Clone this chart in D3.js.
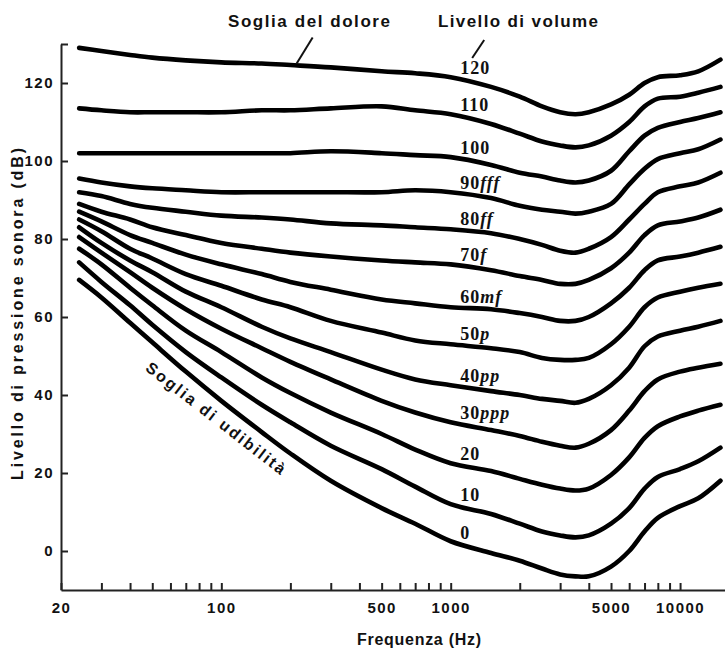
<!DOCTYPE html>
<html>
<head>
<meta charset="utf-8">
<script src="https://cdn.jsdelivr.net/npm/d3@7"></script>
<style>
  body { margin: 0; background: #fff; }
  svg { display: block; font-family: "Liberation Sans", Arial, sans-serif; }
  .axis path, .axis line { stroke: #222; stroke-width: 2; }
  .axis text { font-family: "Liberation Sans", Arial, sans-serif; font-size: 15px; font-weight: bold; fill: #111; letter-spacing: 1.5px; }
  .curve { fill: none; stroke: #000; stroke-width: 4.6; stroke-linecap: round; stroke-linejoin: round; }
  .title { font-weight: bold; fill: #111; }
  .lvl { font-family: "Liberation Serif", "Times New Roman", serif; font-weight: bold; font-size: 18px; letter-spacing: 1px; fill: #111; }
  .pointer { stroke: #111; stroke-width: 2; fill: none; }
</style>
</head>
<body>
<script>
// frequencies (Hz) where every curve is sampled
const freqs = [24, 30, 40, 50, 70, 100, 150, 200, 300, 500, 700, 1000, 1500, 2000, 2500, 3000, 3500, 4000, 5000, 6000, 7000, 8000, 10000, 12000, 15000];

// sound pressure level (dB) of each equal-loudness curve
const phon120 = [129, 128.2, 127.2, 126.5, 125.8, 125.3, 125, 124.6, 124, 123, 122.5, 121.5, 119, 116.5, 114, 112.5, 112, 112.5, 114.5, 117, 120, 121.5, 122, 123, 126];
const phon110 = [113.5, 113, 112.5, 112.5, 112.5, 112.5, 113, 113, 113.5, 114, 113, 112, 109.5, 107, 105, 104, 103.5, 104, 106.5, 110, 114, 116, 116.5, 117.5, 119];
const phon100 = [102, 102, 102, 102, 102, 102, 102, 102, 102.5, 102, 101.5, 101, 99, 97, 96, 95, 94.5, 95, 97.5, 102.5, 106.5, 108.5, 110, 111, 112.5];
const phon90 = [95.5, 94.5, 93.5, 93, 92.5, 92, 92, 92, 92, 92, 92.5, 92, 90.5, 88.5, 87.5, 87, 86.5, 87, 89, 94, 98, 100.5, 102, 103, 105.5];
const phon80 = [92, 91, 89, 88, 87, 86, 85.5, 85, 84, 83.5, 83, 82.5, 81.5, 80, 78.5, 77, 76.5, 77.5, 80.5, 85, 89, 92, 93.5, 94.5, 97];
const phon70 = [89, 87, 85, 83, 81, 79, 77.5, 76.5, 75.5, 74.5, 74, 73.5, 72, 70.5, 69.5, 68.5, 68.5, 69.5, 72.5, 76.5, 81, 83.5, 84.5, 85.5, 87.5];
const phon60 = [87, 84.5, 81, 79, 76, 73.5, 71, 69, 67, 64.5, 63.5, 62.5, 62, 61, 60, 59, 59, 60, 63.5, 67.5, 72, 74.5, 75.5, 76.5, 78];
const phon50 = [85, 82, 77.5, 75, 71, 68, 64.5, 62.5, 59, 56, 54, 53, 52, 51, 49.5, 49, 49, 49.5, 53, 57.5, 62.5, 65, 66.5, 67.5, 68.5];
const phon40 = [83, 79, 74.5, 71.5, 66.5, 62.5, 57.5, 54.5, 51, 46.5, 44, 42.5, 41, 40, 39, 38.5, 38, 39, 42.5, 47, 52.5, 55, 56.5, 57.5, 59];
const phon30 = [80.5, 76.5, 71.5, 67.5, 62, 57, 52, 48.5, 44, 38.5, 35.5, 33, 31, 29.5, 28, 27, 26.5, 27.5, 31, 36, 41, 44, 46, 47, 48];
const phon20 = [77.5, 73.5, 67.5, 63, 56.5, 51, 44.5, 40.5, 35.5, 30, 26, 22.5, 20.5, 18.5, 17, 16, 15.5, 16, 19.5, 24, 29, 32, 34.5, 36, 37.5];
const phon10 = [74, 69, 63, 58, 51, 44.5, 37.5, 33, 27, 21, 16.5, 12, 9.5, 7, 5, 4, 3.5, 4, 7, 11, 16, 19, 21, 23, 26.5];
const phon0 = [69.5, 65, 58.5, 53.5, 46, 38.5, 30.5, 25, 18, 11, 7, 2.5, -0.5, -2.5, -4.5, -6, -6.5, -6.5, -4, 0, 5, 8.5, 11.5, 13.5, 18];

// curve labels (loudness level + musical dynamic)
const levelNames = ["120", "110", "100", "90", "80", "70", "60", "50", "40", "30", "20", "10", "0"];
const dynamics = ["", "", "", "fff", "ff", "f", "mf", "p", "pp", "ppp", "", "", ""];

// axis ticks
const xTickValues = [20, 30, 40, 50, 60, 70, 80, 90, 100, 200, 300, 400, 500, 600, 700, 800, 900,
                     1000, 2000, 3000, 4000, 5000, 6000, 7000, 8000, 9000, 10000];
const xTickLabels = [20, 100, 500, 1000, 5000, 10000];
const yTickValues = [0, 20, 40, 60, 80, 100, 120, 130];

class Chart {
  constructor() {
    this.curves = [phon120, phon110, phon100, phon90, phon80, phon70, phon60,
                   phon50, phon40, phon30, phon20, phon10, phon0];
    this.draw();
  }

  draw() {
    this.width = 725;
    this.height = 657;
    this.svg = d3.select("body").append("svg")
      .attr("width", this.width)
      .attr("height", this.height);

    this.createScales();
    this.addAxes();
    this.addCurves();
    this.addLabels();
    this.addTitles();
  }

  createScales() {
    this.xScale = d3.scaleLog().domain([20, 15700]).range([61, 725]);
    this.yScale = d3.scaleLinear().domain([-10, 130]).range([590, 44]);
  }

  // value of a curve at frequency f (linear in log f)
  valueAt(vals, f) {
    let i = d3.bisectRight(freqs, f) - 1;
    i = Math.max(0, Math.min(freqs.length - 2, i));
    const t = (Math.log(f) - Math.log(freqs[i])) / (Math.log(freqs[i + 1]) - Math.log(freqs[i]));
    return vals[i] + t * (vals[i + 1] - vals[i]);
  }

  addAxes() {
    const xAxis = d3.axisBottom(this.xScale)
      .tickValues(xTickValues)
      .tickFormat(d => xTickLabels.includes(d) ? d : "")
      .tickSizeInner(-7)
      .tickSizeOuter(0)
      .tickPadding(12);

    const yAxis = d3.axisLeft(this.yScale)
      .tickValues(yTickValues)
      .tickFormat(d => d === 130 ? "" : d)
      .tickSizeInner(-7)
      .tickSizeOuter(0)
      .tickPadding(7);

    this.svg.append("g")
      .attr("class", "x axis")
      .attr("transform", `translate(0, ${this.yScale(-10)})`)
      .call(xAxis);

    this.svg.append("g")
      .attr("class", "y axis")
      .attr("transform", `translate(${this.xScale(20)}, 0)`)
      .call(yAxis);
  }

  addCurves() {
    const line = d3.line()
      .x((d, i) => this.xScale(freqs[i]))
      .y(d => this.yScale(d))
      .curve(d3.curveCatmullRom.alpha(0.5));

    this.svg.append("g")
      .selectAll("path")
      .data(this.curves)
      .enter()
      .append("path")
      .attr("class", "curve")
      .attr("d", line);
  }

  addLabels() {
    const fLab = 1100;
    const g = this.svg.append("g");
    this.curves.forEach((vals, i) => {
      const t = g.append("text")
        .attr("class", "lvl")
        .attr("x", this.xScale(fLab))
        .attr("y", this.yScale(this.valueAt(vals, fLab)) - 5);
      t.append("tspan").text(levelNames[i]);
      if (dynamics[i]) t.append("tspan").attr("font-style", "italic").text(dynamics[i]);
    });
  }

  addTitles() {
    const s = this.svg;

    // pain threshold label + pointer to the top curve
    const fp = 213;
    const px = this.xScale(fp), py = this.yScale(this.valueAt(phon120, fp)) - 2;
    s.append("path").attr("class", "pointer")
      .attr("d", `M${px},${py}L${px + 16},${py - 26}`);
    s.append("text").attr("class", "title")
      .attr("x", 228).attr("y", 27)
      .attr("font-size", 17)
      .attr("textLength", 162).attr("lengthAdjust", "spacing")
      .text("Soglia del dolore");

    // loudness level label + pointer to "120"
    const lx = this.xScale(1100);
    s.append("path").attr("class", "pointer")
      .attr("d", `M${lx + 24},40L${lx + 12},58`);
    s.append("text").attr("class", "title")
      .attr("x", 438).attr("y", 27)
      .attr("font-size", 17)
      .attr("textLength", 160).attr("lengthAdjust", "spacing")
      .text("Livello di volume");

    // hearing threshold, written along the 0 curve
    const fh = 105;
    const hx = this.xScale(fh), hy = this.yScale(this.valueAt(phon0, fh));
    s.append("text").attr("class", "title")
      .attr("transform", `translate(${hx},${hy}) rotate(37.8)`)
      .attr("x", 0).attr("y", 17).attr("dy", "0.35em")
      .attr("text-anchor", "middle")
      .attr("font-size", 16)
      .attr("textLength", 172).attr("lengthAdjust", "spacing")
      .text("Soglia di udibilità");

    // axis titles
    s.append("text").attr("class", "title")
      .attr("x", 419).attr("y", 645)
      .attr("text-anchor", "middle")
      .attr("font-size", 16)
      .attr("textLength", 124).attr("lengthAdjust", "spacing")
      .text("Frequenza (Hz)");

    s.append("text").attr("class", "title")
      .attr("transform", "translate(23, 314) rotate(-90)")
      .attr("text-anchor", "middle")
      .attr("font-size", 16)
      .attr("textLength", 332).attr("lengthAdjust", "spacing")
      .text("Livello di pressione sonora (dB)");
  }
}

new Chart();
</script>
</body>
</html>
